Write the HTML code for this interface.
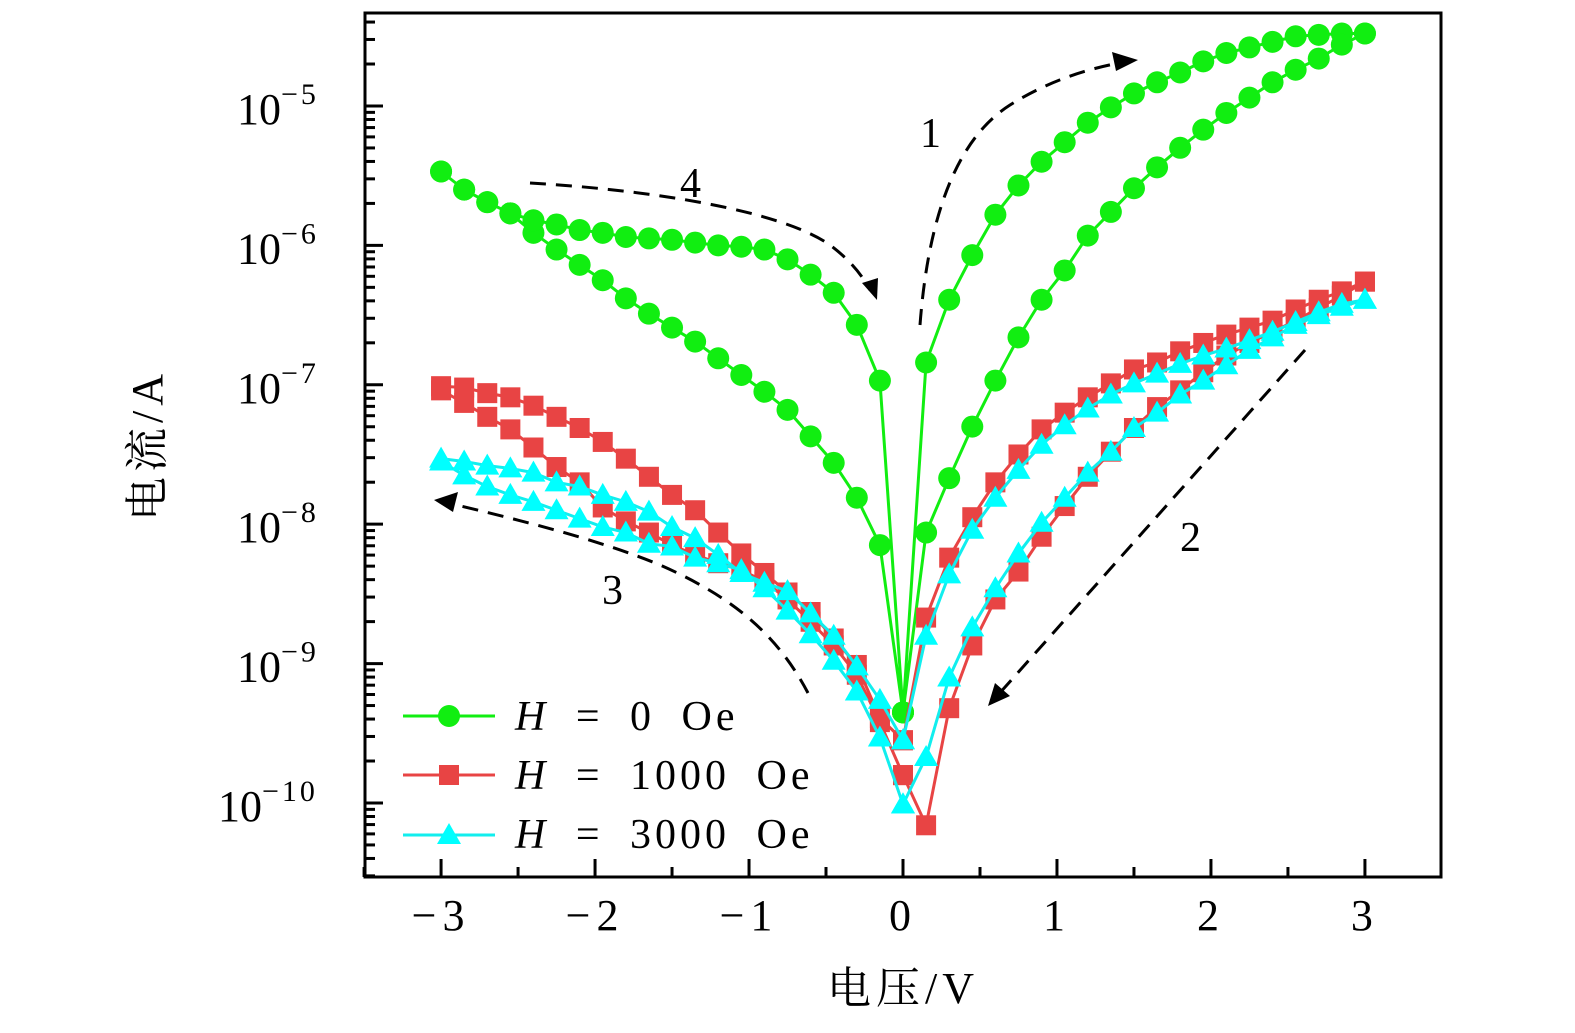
<!DOCTYPE html>
<html><head><meta charset="utf-8"><style>
html,body{margin:0;padding:0;background:#fff;}
svg{display:block;font-family:"Liberation Serif","Noto Serif CJK SC",serif;}
</style></head><body>
<svg id="chart" width="1575" height="1033" viewBox="0 0 1575 1033" xmlns="http://www.w3.org/2000/svg">
<rect width="1575" height="1033" fill="#fff"/>
<g id="ticks"></g>
<g id="series"></g>
<g id="annot" fill="none" stroke="#000" stroke-width="3" stroke-dasharray="16,10">
<path d="M920,325 C928,220 955,140 1010,105 C1050,80 1090,68 1125,62"/>
<path d="M530,183 C650,190 780,210 830,245 C850,260 862,275 870,290"/>
<path d="M808,693 C780,640 740,600 660,565 C600,540 520,520 448,503"/>
<path d="M1305,350 L998,695"/>
</g>
<g fill="#000">
<polygon points="1138,60 1112,52 1116,71"/>
<polygon points="877,300 862,283 878,278"/>
<polygon points="434,500 458,492 453,512"/>
<polygon points="988,706 995,683 1010,696"/>
</g>
<g font-size="42" fill="#000">
<text x="920" y="147">1</text>
<text x="680" y="197">4</text>
<text x="602" y="604">3</text>
<text x="1180" y="551">2</text>
</g>
<rect x="365" y="13" width="1076" height="864" fill="none" stroke="#000" stroke-width="3"/>
<g id="legend" font-size="42" letter-spacing="4" word-spacing="12">
<g>
<line x1="403" y1="716" x2="495" y2="716" stroke="#11ee11" stroke-width="3"/>
<circle cx="449" cy="716" r="11" fill="#11ee11"/>
<text x="515" y="730"><tspan font-style="italic">H</tspan> = 0 Oe</text></g>
<g>
<line x1="403" y1="775" x2="495" y2="775" stroke="#e84444" stroke-width="3"/>
<rect x="439" y="765" width="20" height="20" fill="#e84444"/>
<text x="515" y="789"><tspan font-style="italic">H</tspan> = 1000 Oe</text></g>
<g>
<line x1="403" y1="835" x2="495" y2="835" stroke="#11eeee" stroke-width="3"/>
<polygon points="449,823 461,844 437,844" fill="#00ffff"/>
<text x="515" y="848"><tspan font-style="italic">H</tspan> = 3000 Oe</text></g>
</g>
<text x="903" y="1003" font-size="44" letter-spacing="5" text-anchor="middle">电压/V</text>
<text transform="translate(162,445) rotate(-90)" font-size="44" letter-spacing="5" text-anchor="middle">电流/A</text>
</svg>
<script>
const voltsPos = [0,0.15,0.3,0.45,0.6,0.75,0.9,1.05,1.2,1.35,1.5,1.65,1.8,1.95,2.1,2.25,2.4,2.55,2.7,2.85,3];
const xTicks = [-3,-2,-1,0,1,2,3];
const yDecades = [-10,-9,-8,-7,-6,-5];
// log10(I) per sweep branch: b1 0->3, b2 3->0, b3 0->-3, b4 -3->0
const g1 = [-9.35,-6.84,-6.39,-6.07,-5.78,-5.57,-5.40,-5.26,-5.12,-5.01,-4.91,-4.83,-4.76,-4.68,-4.62,-4.58,-4.54,-4.50,-4.49,-4.48,-4.48];
const g2 = [-4.48,-4.56,-4.66,-4.74,-4.83,-4.94,-5.05,-5.17,-5.30,-5.44,-5.59,-5.76,-5.93,-6.18,-6.39,-6.66,-6.97,-7.30,-7.67,-8.06,-9.35];
const g3 = [-9.35,-8.15,-7.81,-7.56,-7.37,-7.18,-7.05,-6.93,-6.81,-6.69,-6.59,-6.49,-6.38,-6.25,-6.14,-6.03,-5.91,-5.77,-5.69,-5.60,-5.47];
const g4 = [-5.47,-5.60,-5.69,-5.77,-5.82,-5.85,-5.89,-5.91,-5.94,-5.95,-5.96,-5.98,-6.00,-6.01,-6.03,-6.10,-6.21,-6.34,-6.57,-6.97,-9.35];
const r1 = [-9.55,-8.67,-8.24,-7.95,-7.70,-7.50,-7.32,-7.20,-7.09,-6.99,-6.89,-6.84,-6.76,-6.70,-6.64,-6.59,-6.54,-6.46,-6.39,-6.33,-6.26];
const r2 = [-6.26,-6.36,-6.45,-6.54,-6.62,-6.70,-6.79,-6.91,-7.04,-7.16,-7.31,-7.48,-7.66,-7.87,-8.09,-8.34,-8.54,-8.87,-9.32,-10.16,-9.80];
const r3 = [-9.80,-9.42,-9.08,-8.87,-8.70,-8.54,-8.41,-8.33,-8.28,-8.22,-8.15,-8.06,-7.98,-7.88,-7.70,-7.59,-7.45,-7.32,-7.23,-7.13,-7.04];
const r4 = [-7.01,-7.02,-7.06,-7.09,-7.15,-7.23,-7.31,-7.41,-7.53,-7.66,-7.79,-7.90,-8.06,-8.21,-8.35,-8.49,-8.63,-8.82,-9.01,-9.39,-9.55];
const c1 = [-9.55,-8.80,-8.36,-8.04,-7.81,-7.61,-7.43,-7.29,-7.17,-7.07,-6.99,-6.92,-6.85,-6.79,-6.74,-6.68,-6.62,-6.55,-6.48,-6.42,-6.39];
const c2 = [-6.39,-6.44,-6.50,-6.57,-6.66,-6.75,-6.86,-6.97,-7.07,-7.20,-7.31,-7.48,-7.63,-7.81,-7.99,-8.21,-8.46,-8.74,-9.10,-9.67,-10.01];
const c3 = [-10.01,-9.53,-9.20,-8.98,-8.79,-8.62,-8.46,-8.33,-8.28,-8.24,-8.16,-8.14,-8.06,-8.02,-7.96,-7.90,-7.84,-7.79,-7.73,-7.65,-7.55];
const c4 = [-7.53,-7.55,-7.58,-7.60,-7.63,-7.70,-7.73,-7.79,-7.84,-7.91,-8.02,-8.10,-8.22,-8.35,-8.42,-8.48,-8.64,-8.80,-9.02,-9.26,-9.55];

const NS = "http://www.w3.org/2000/svg";
const X0 = 365, X1 = 1441, Y0 = 13, Y1 = 877;
const xMin = -3.494, xMax = 3.494, yMin = -10.531, yMax = -4.333;
function xs(v){ return X0 + (v - xMin) / (xMax - xMin) * (X1 - X0); }
function ys(l){ return Y1 - (l - yMin) / (yMax - yMin) * (Y1 - Y0); }
function mk(tag, attrs, parent){ const e = document.createElementNS(NS, tag); for (const k in attrs) e.setAttribute(k, attrs[k]); parent.appendChild(e); return e; }

const tg = document.getElementById('ticks');
xTicks.forEach(t => {
  const l = mk('line', {x1: xs(t), x2: xs(t), y1: Y1, y2: Y1 - 18, stroke: '#000', 'stroke-width': 3}, tg);
  
  
  const tx = mk('text', {x: xs(t), y: 930, 'font-size': 44, 'letter-spacing': 6, 'text-anchor': 'middle'}, tg);
  tx.textContent = t < 0 ? '\u2212' + Math.abs(t) : String(t);
  
  
  if (t < 3) {
    const m = mk('line', {x1: xs(t + 0.5), x2: xs(t + 0.5), y1: Y1, y2: Y1 - 10, stroke: '#000', 'stroke-width': 3}, tg);
    
    
  }
});
[-3.5].forEach(t => {
  const m = mk('line', {x1: xs(t), x2: xs(t), y1: Y1, y2: Y1 - 10, stroke: '#000', 'stroke-width': 3}, tg);
  
  
});
const allDec = [-11].concat(yDecades);
allDec.forEach(d => {
  if (d >= -10) {
    const l = mk('line', {x1: X0, x2: X0 + 18, y1: ys(d), y2: ys(d), stroke: '#000', 'stroke-width': 3}, tg);
    
    
    const tx = mk('text', {x: d <= -10 ? 218 : 237, y: ys(d) + 18, 'font-size': 44}, tg);
    
    
    tx.textContent = '10';
    const sup = mk('tspan', {dy: -20, 'font-size': 30, 'letter-spacing': 3}, tx);
    sup.textContent = '\u2212' + Math.abs(d);
  }
  for (let k = 2; k <= 9; k++) {
    const l = d + Math.log10(k);
    if (l < yMin || l > yMax) continue;
    const m = mk('line', {x1: X0, x2: X0 + 10, y1: ys(l), y2: ys(l), stroke: '#000', 'stroke-width': 3}, tg);
    
    
  }
});

const sg = document.getElementById('series');
function drawSeries(name, color, lineColor, shape, b1, b2, b3, b4) {
  const pts = [];
  voltsPos.forEach((v, i) => pts.push([v, b1[i]]));
  voltsPos.slice().reverse().forEach((v, i) => pts.push([v, b2[i]]));
  voltsPos.forEach((v, i) => pts.push([-v, b3[i]]));
  voltsPos.slice().reverse().forEach((v, i) => pts.push([-v, b4[i]]));
  const g = mk('g', {}, sg);
  
  
  const pl = mk('polyline', {points: pts.map(p => xs(p[0]) + ',' + ys(p[1])).join(' '), fill: 'none', stroke: lineColor, 'stroke-width': 3, 'stroke-linejoin': 'round'}, g);
  
  
  pts.forEach(p => {
    const x = xs(p[0]), y = ys(p[1]);
    let m;
    if (shape === 'circle') m = mk('circle', {cx: x, cy: y, r: 11, fill: color}, g);
    else if (shape === 'square') m = mk('rect', {x: x - 10, y: y - 10, width: 20, height: 20, fill: color}, g);
    else m = mk('polygon', {points: (x) + ',' + (y - 12) + ' ' + (x + 12) + ',' + (y + 9) + ' ' + (x - 12) + ',' + (y + 9), fill: color}, g);
    
    
  });
}
drawSeries('series-0oe', '#11ee11', '#11ee11', 'circle', g1, g2, g3, g4);
drawSeries('series-1000oe', '#e84444', '#e84444', 'square', r1, r2, r3, r4);
drawSeries('series-3000oe', '#00ffff', '#11eeee', 'triangle', c1, c2, c3, c4);
</script>
</body></html>
